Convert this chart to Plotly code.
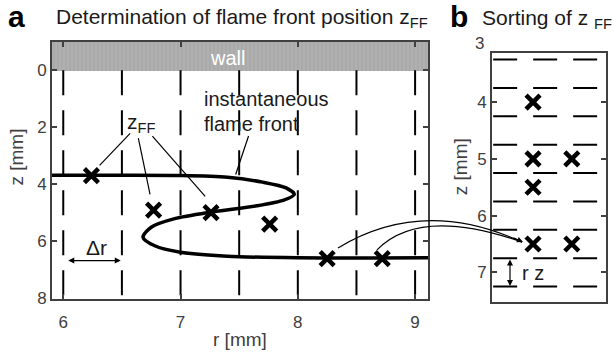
import plotly.graph_objects as go

W, H = 613, 362

# ---------------- data ----------------
grid_r = [6.0, 6.5, 7.0, 7.5, 8.0, 8.5, 9.0]          # radial bins (panel a)
flame_r = [5.9, 6.5, 7.0, 7.4, 7.7, 7.9, 7.97, 7.88, 7.65, 7.26, 6.95, 6.75, 6.68, 6.78, 7.0, 7.4, 8.0, 9.11]
flame_z = [3.68, 3.68, 3.69, 3.75, 3.92, 4.12, 4.35, 4.55, 4.75, 4.97, 5.2, 5.5, 5.85, 6.15, 6.38, 6.52, 6.57, 6.57]
cross_r = [6.24, 6.77, 7.26, 7.76, 8.25, 8.72]
cross_z = [3.69, 4.9, 4.99, 5.39, 6.6, 6.6]

bin_z = [3.25, 3.75, 4.25, 4.75, 5.25, 5.75, 6.25, 6.75, 7.25]   # axial bins (panel b)
sorted_col = [0.36, 0.36, 0.70, 0.36, 0.36, 0.70]
sorted_z = [4.0, 5.0, 5.0, 5.5, 6.5, 6.5]

xticks_a = [6, 7, 8, 9]
yticks_a = [0, 2, 4, 6, 8]
yticks_b = [4, 5, 6, 7]
top_label_b = "3"

FONT = "Liberation Sans, Arial, sans-serif"
AX = "#404040"


def P(px, py):
    return px / W, 1 - py / H


fig = go.Figure()

# wall
fig.add_trace(go.Bar(x=[7.505], y=[1.0], base=[-1.0], width=[3.21], xaxis="x", yaxis="y",
                     marker=dict(color="#ababab", line=dict(width=0),
                                 pattern=dict(shape="|", fgcolor="#9c9c9c", bgcolor="#b0b0b0",
                                              size=4, solidity=0.35)),
                     showlegend=False, hoverinfo="skip"))

# vertical dashed bin lines
for r in grid_r:
    fig.add_trace(go.Scatter(x=[r, r], y=[0, 8], mode="lines", xaxis="x", yaxis="y",
                             line=dict(color="black", width=2, dash="25px,15px"),
                             showlegend=False, hoverinfo="skip"))

# flame front
fig.add_trace(go.Scatter(x=flame_r, y=flame_z, mode="lines", xaxis="x", yaxis="y",
                         line=dict(color="black", width=3.5, shape="spline", smoothing=0.8),
                         showlegend=False, hoverinfo="skip"))

# crosses panel a
fig.add_trace(go.Scatter(x=cross_r, y=cross_z, mode="markers", xaxis="x", yaxis="y",
                         marker=dict(symbol="x-thin", size=14, line=dict(color="black", width=4.5)),
                         showlegend=False, hoverinfo="skip"))

# horizontal dashed bin lines panel b
for z in bin_z:
    fig.add_trace(go.Scatter(x=[0.01, 0.93], y=[z, z], mode="lines", xaxis="x2", yaxis="y2",
                             line=dict(color="black", width=2, dash="24px,16px"),
                             showlegend=False, hoverinfo="skip"))

fig.add_trace(go.Scatter(x=sorted_col, y=sorted_z, mode="markers", xaxis="x2", yaxis="y2",
                         marker=dict(symbol="x-thin", size=14, line=dict(color="black", width=4.5)),
                         showlegend=False, hoverinfo="skip"))

axis_common = dict(showline=True, linecolor=AX, linewidth=2, mirror="allticks", ticks="inside",
                   ticklen=5, tickwidth=1.5, tickcolor=AX, showgrid=False, zeroline=False,
                   tickfont=dict(family=FONT, size=17, color=AX))

xa0, ya0 = P(52, 43)
xa1, ya1 = P(428, 307)
xb0, yb0 = P(492, 54)
xb1, yb1 = P(606, 311)

fig.update_layout(
    width=W, height=H, margin=dict(l=0, r=0, t=0, b=0),
    paper_bgcolor="white", plot_bgcolor="white", bargap=0,
    xaxis=dict(domain=[xa0, xa1], range=[5.904, 9.11], tickvals=xticks_a, ticklabelstandoff=7,
               **axis_common),
    yaxis=dict(domain=[ya1, ya0], range=[8, -1], tickvals=yticks_a, **axis_common),
    xaxis2=dict(domain=[xb0, xb1], range=[0, 1], anchor="y2", showline=True, linecolor=AX,
                linewidth=2, mirror=True, ticks="", showticklabels=False, showgrid=False,
                zeroline=False),
    yaxis2=dict(domain=[yb1, yb0], range=[7.53, 3.125], anchor="x2", tickvals=yticks_b, **axis_common),
)

ann = []


def text(px, py, s, size=20, color="#1a1a1a", xanchor="left", yanchor="middle", angle=0):
    x, y = P(px, py)
    ann.append(dict(x=x, y=y, xref="paper", yref="paper", text=s, showarrow=False,
                    xanchor=xanchor, yanchor=yanchor, textangle=angle,
                    font=dict(family=FONT, size=size, color=color)))


text(6, 17, "<b>a</b>", size=30, color="black")
text(54, 18, "Determination of flame front position z<sub>FF</sub>", size=21)
text(448, 17, "<b>b</b>", size=30, color="black")
text(480, 20, "Sorting of z <sub>FF</sub>", size=21)
text(240, 362, "r [mm]", size=19, color=AX, xanchor="center", yanchor="bottom")
text(17, 162, "z [mm]", size=19, color=AX, xanchor="center", angle=-90)
text(460, 172, "z [mm]", size=19, color=AX, xanchor="center", angle=-90)
text(486, 45, top_label_b, size=17, color=AX, xanchor="right")

# panel a annotations in data coordinates
def dtext(r, z, s, size=20, color="#1a1a1a", xanchor="center"):
    ann.append(dict(x=r, y=z, xref="x", yref="y", text=s, showarrow=False, xanchor=xanchor,
                    yanchor="middle", font=dict(family=FONT, size=size, color=color)))


dtext(7.40, -0.45, "wall", size=20, color="white")
dtext(6.66, 1.85, "z<sub>FF</sub>", size=21)
dtext(7.18, 1.0, "instantaneous", size=20, xanchor="left")
dtext(7.18, 1.88, "flame front", size=20, xanchor="left")
dtext(6.28, 6.2, "Δr", size=21)

# double arrow Δr
ann.append(dict(x=6.49, y=6.67, ax=6.03, ay=6.67, xref="x", yref="y", axref="x", ayref="y",
                text="", showarrow=True, arrowhead=2, arrowside="end+start", arrowsize=1,
                arrowwidth=1.2, arrowcolor="black"))

# double arrow in panel b
ann.append(dict(x=P(510, 267)[0], y=P(510, 267)[1], xref="paper", yref="paper", ax=0, ay=28,
                text="", showarrow=True, arrowhead=2, arrowside="end+start", arrowsize=1,
                arrowwidth=1.2, arrowcolor="black"))
text(520, 281, "r z", size=20)

shapes = []
# leader lines (panel a, data coordinates)
for (r0, z0, r1, z1) in [(6.57, 2.21, 6.31, 3.33), (6.64, 2.38, 6.74, 4.35),
                         (6.76, 2.31, 7.21, 4.42), (7.58, 2.3, 7.47, 3.65)]:
    shapes.append(dict(type="line", xref="x", yref="y", x0=r0, y0=z0, x1=r1, y1=z1,
                       line=dict(color="black", width=1.2)))

# curved arrows from panel a to panel b
def bez(p0, c, p1):
    a, b, d = P(*p0), P(*c), P(*p1)
    return f"M {a[0]},{a[1]} Q {b[0]},{b[1]} {d[0]},{d[1]}"


shapes.append(dict(type="path", xref="paper", yref="paper", path=bez((338, 255), (423, 202), (522, 249)),
                   line=dict(color="black", width=1.2)))
shapes.append(dict(type="path", xref="paper", yref="paper", path=bez((377, 257), (420, 212), (522, 249)),
                   line=dict(color="black", width=1.2)))
ann.append(dict(x=P(523, 249)[0], y=P(523, 249)[1], xref="paper", yref="paper", ax=-11, ay=-5,
                text="", showarrow=True, arrowhead=2, arrowsize=1, arrowwidth=1.2, arrowcolor="black"))

fig.update_layout(annotations=ann, shapes=shapes)
fig.write_html("out.html")
